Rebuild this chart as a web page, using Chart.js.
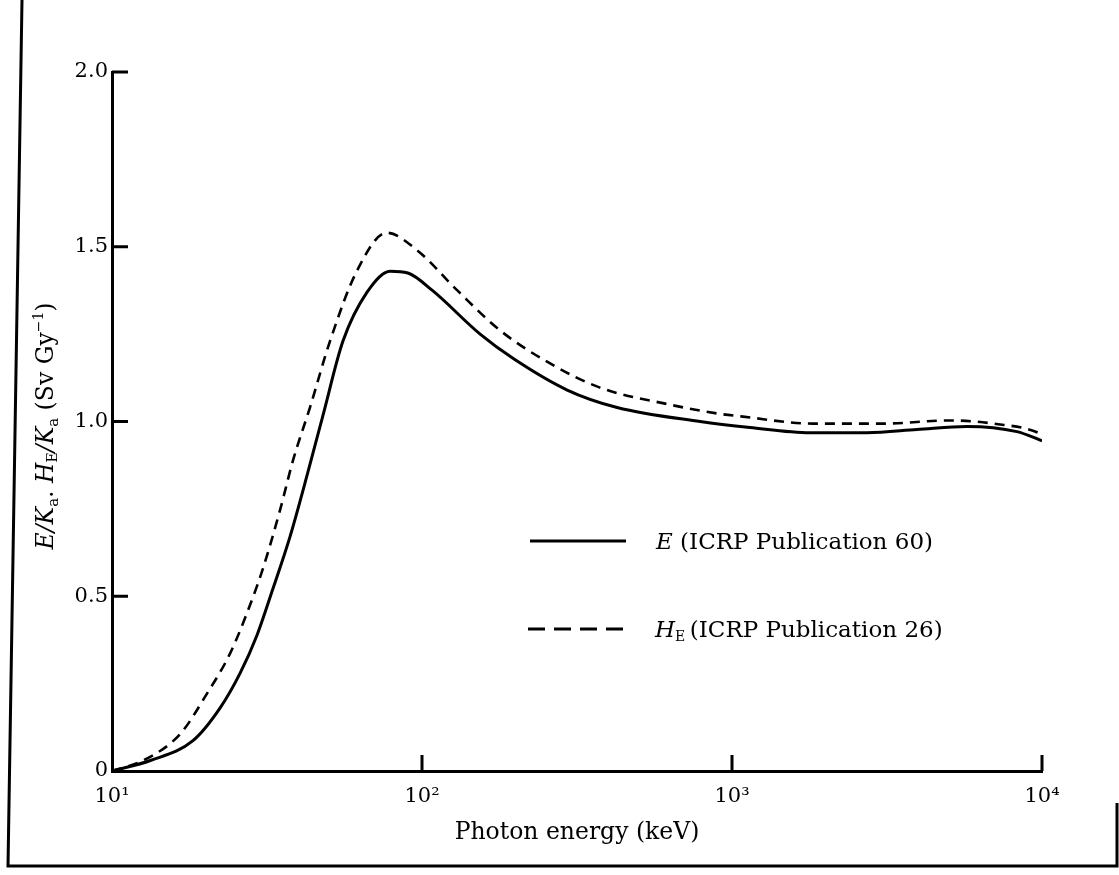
<!DOCTYPE html>
<html>
<head>
<meta charset="utf-8">
<script src="https://cdn.jsdelivr.net/npm/chart.js@4.4.6/dist/chart.umd.min.js"></script>
<style>
  html, body { margin: 0; padding: 0; background: #fff; }
  canvas { display: block; }
</style>
</head>
<body>
<canvas id="chart" width="1119" height="875"></canvas>
<script>
// photon energy (keV) and conversion coefficients (Sv/Gy)
const eEnergy = [10, 13.3, 18.2, 22.3, 25.9, 29.4, 33, 37.5, 43, 48, 55.6, 66.5, 79, 90, 108, 154, 197, 294, 426, 789, 1143, 1785, 2725, 3950, 5730, 8300, 10000];
const eValues = [0, 0.03, 0.086, 0.18, 0.28, 0.39, 0.52, 0.67, 0.86, 1.02, 1.23, 1.37, 1.43, 1.425, 1.375, 1.25, 1.18, 1.09, 1.04, 1.0, 0.983, 0.968, 0.968, 0.977, 0.986, 0.971, 0.945];

const hEnergy = [10, 12.6, 16.6, 20.2, 24, 27.2, 30.7, 34.8, 38.4, 43.5, 50.5, 61.6, 77, 96.4, 130, 179, 259, 375, 617, 896, 1085, 1823, 3070, 5050, 6950, 9700, 10000];
const hValues = [0, 0.03, 0.106, 0.22, 0.335, 0.45, 0.58, 0.745, 0.89, 1.04, 1.23, 1.43, 1.54, 1.49, 1.375, 1.26, 1.166, 1.097, 1.05, 1.023, 1.014, 0.994, 0.994, 1.003, 0.994, 0.968, 0.96];

const xTickValues = [10, 100, 1000, 10000];
const xTickLabels = ['10\u00b9', '10\u00b2', '10\u00b3', '10\u2074'];
const yTickValues = [0, 0.5, 1.0, 1.5, 2.0];
const yTickLabels = ['0', '0.5', '1.0', '1.5', '2.0'];

const seriesNames = ['(ICRP Publication 60)', '(ICRP Publication 26)'];

const FONT = '"DejaVu Serif", serif';

const toPoints = (xs, ys) => xs.map((x, i) => ({ x, y: ys[i] }));

// page frame, inward ticks, y title and legend
const decorations = {
  id: 'decorations',
  beforeDraw(chart) {
    const ctx = chart.ctx;
    ctx.save();
    ctx.strokeStyle = '#000';
    ctx.lineWidth = 3;
    ctx.beginPath();
    ctx.moveTo(22, 0);
    ctx.lineTo(8, 866);
    ctx.lineTo(1117, 866);
    ctx.lineTo(1117, 803);
    ctx.stroke();
    ctx.restore();
  },
  afterDraw(chart) {
    const ctx = chart.ctx;
    const { left, bottom } = chart.chartArea;
    const xs = chart.scales.x, ys = chart.scales.y;
    ctx.save();
    ctx.strokeStyle = '#000';
    ctx.lineWidth = 3;
    ctx.beginPath();
    yTickValues.slice(1).forEach(v => {
      const py = ys.getPixelForValue(v);
      ctx.moveTo(left, py);
      ctx.lineTo(left + 16, py);
    });
    xTickValues.slice(1).forEach(v => {
      const px = xs.getPixelForValue(v);
      ctx.moveTo(px, bottom);
      ctx.lineTo(px, bottom - 16);
    });
    ctx.stroke();

    // y axis title, rotated
    const parts = [
      { t: 'E/K', f: 'italic 23.5px ' + FONT, dy: 0 },
      { t: 'a', f: '15px ' + FONT, dy: 5 },
      { t: '. ', f: '23.5px ' + FONT, dy: 0 },
      { t: 'H', f: 'italic 23.5px ' + FONT, dy: 0 },
      { t: 'E', f: '14px ' + FONT, dy: 4 },
      { t: '/K', f: 'italic 23.5px ' + FONT, dy: 0 },
      { t: 'a', f: '15px ' + FONT, dy: 5 },
      { t: ' (Sv Gy', f: '23.5px ' + FONT, dy: 0 },
      { t: '\u22121', f: '14px ' + FONT, dy: -10 },
      { t: ')', f: '23.5px ' + FONT, dy: 0 }
    ];
    let total = 0;
    parts.forEach(p => { ctx.font = p.f; p.w = ctx.measureText(p.t).width; total += p.w; });
    ctx.translate(45, 426);
    ctx.rotate(-Math.PI / 2);
    ctx.fillStyle = '#000';
    ctx.textBaseline = 'alphabetic';
    let cx = -total / 2;
    parts.forEach(p => {
      ctx.font = p.f;
      ctx.fillText(p.t, cx, 8 + p.dy);
      cx += p.w;
    });
    ctx.restore();

    // legend
    ctx.save();
    ctx.strokeStyle = '#000';
    ctx.fillStyle = '#000';
    ctx.lineWidth = 3;
    ctx.beginPath();
    ctx.moveTo(530, 541);
    ctx.lineTo(626, 541);
    ctx.stroke();
    ctx.setLineDash([17, 9]);
    ctx.beginPath();
    ctx.moveTo(528, 629);
    ctx.lineTo(626, 629);
    ctx.stroke();
    ctx.setLineDash([]);
    ctx.textBaseline = 'alphabetic';
    ctx.font = 'italic 23px ' + FONT;
    ctx.fillText('E', 656, 549);
    let w = ctx.measureText('E ').width;
    ctx.font = '23px ' + FONT;
    ctx.fillText(seriesNames[0], 656 + w, 549);
    ctx.font = 'italic 23px ' + FONT;
    ctx.fillText('H', 655, 637);
    w = ctx.measureText('H').width;
    ctx.font = '14px ' + FONT;
    ctx.fillText('E', 655 + w, 641);
    const w2 = ctx.measureText('E ').width;
    ctx.font = '23px ' + FONT;
    ctx.fillText(seriesNames[1], 655 + w + w2, 637);
    ctx.restore();
  }
};

new Chart(document.getElementById('chart'), {
  type: 'line',
  data: {
    datasets: [
      {
        label: 'E (ICRP Publication 60)',
        data: toPoints(eEnergy, eValues),
        borderColor: '#000',
        borderWidth: 3,
        pointRadius: 0,
        cubicInterpolationMode: 'monotone',
        fill: false
      },
      {
        label: 'HE (ICRP Publication 26)',
        data: toPoints(hEnergy, hValues),
        borderColor: '#000',
        borderWidth: 2.6,
        borderDash: [10, 7],
        pointRadius: 0,
        cubicInterpolationMode: 'monotone',
        fill: false
      }
    ]
  },
  options: {
    responsive: false,
    animation: false,
    layout: { padding: { left: 0, top: 72, right: 77, bottom: 28 } },
    plugins: { legend: { display: false }, tooltip: { enabled: false } },
    scales: {
      x: {
        type: 'logarithmic',
        min: 10,
        max: 10000,
        afterBuildTicks: s => { s.ticks = xTickValues.map(v => ({ value: v })); },
        afterFit: s => { s.height = 76; },
        grid: { display: false, drawTicks: false },
        border: { display: true, color: '#000', width: 3 },
        ticks: {
          color: '#000',
          padding: 13,
          maxRotation: 0,
          autoSkip: false,
          font: { family: FONT, size: 21 },
          callback: (v) => xTickLabels[xTickValues.indexOf(v)]
        },
        title: {
          display: true,
          text: 'Photon energy (keV)',
          color: '#000',
          font: { family: FONT, size: 23.5 },
          padding: 0
        }
      },
      y: {
        type: 'linear',
        min: 0,
        max: 2,
        afterBuildTicks: s => { s.ticks = yTickValues.map(v => ({ value: v })); },
        afterFit: s => { s.width = 112; },
        grid: { display: false, drawTicks: false },
        border: { display: true, color: '#000', width: 3 },
        ticks: {
          color: '#000',
          padding: 4,
          font: { family: FONT, size: 21 },
          callback: (v) => yTickLabels[yTickValues.indexOf(v)]
        }
      }
    }
  },
  plugins: [decorations]
});
</script>
</body>
</html>
